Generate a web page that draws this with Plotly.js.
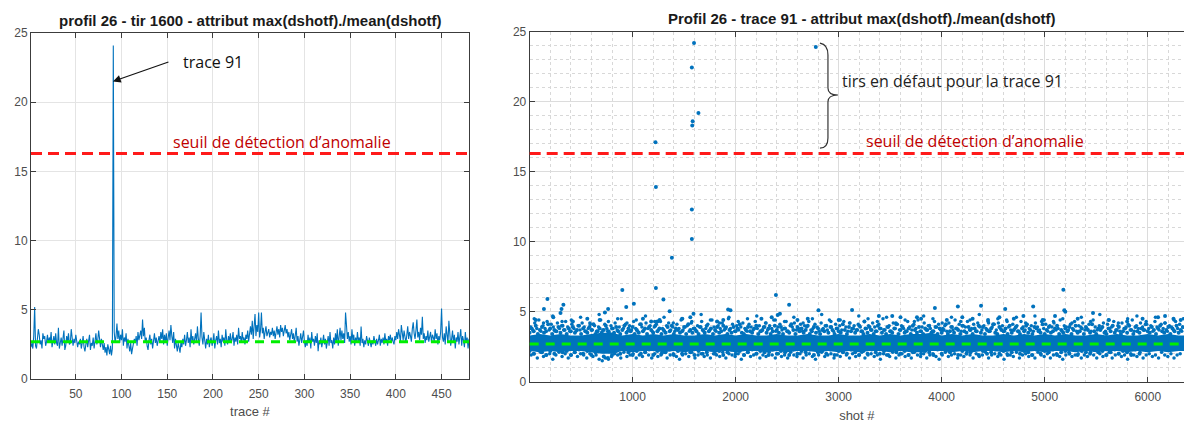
<!DOCTYPE html>
<html>
<head>
<meta charset="utf-8">
<script src="https://cdn.plot.ly/plotly-3.0.1.min.js"></script>
<style>html,body{margin:0;padding:0;background:#fff;}#chart{width:1184px;height:423px;}</style>
</head>
<body>
<div id="chart"></div>
<script>
// ---------- data ----------
const leftTitle = "profil 26 - tir 1600 - attribut max(dshotf)./mean(dshotf)";
const rightTitle = "Profil 26 - trace 91 - attribut max(dshotf)./mean(dshotf)";
const leftXLabel = "trace #";
const rightXLabel = "shot #";
const thresholdLabel = "seuil de détection d’anomalie";
const traceLabel = "trace 91";
const faultLabel = "tirs en défaut pour la trace 91";

const threshold = 16.3;
const meanLevel = 2.7;

// left: attribute per trace (trace # 1..480)
const traceValues = [
2.3,2.6,2.2,3.1,5.2,2.4,2.2,2.9,3.6,3.2,2.5,2.8,2.2,3.3,2.9,3.1,2.4,2.7,3.2,2.6,
3.0,2.7,3.4,2.3,2.9,3.1,2.5,3.3,2.6,2.4,3.7,2.2,2.6,3.0,2.4,2.9,3.5,2.1,2.4,3.1,
2.7,3.3,2.5,2.6,3.6,3.0,2.4,2.9,2.6,3.2,2.8,2.3,2.7,2.5,2.9,2.2,2.6,3.1,2.3,2.0,
2.5,2.9,2.3,2.7,3.2,2.1,2.6,2.4,3.0,2.2,2.7,3.3,2.5,2.8,3.5,2.6,2.3,2.9,2.4,2.1,
2.6,1.9,2.3,1.7,2.5,2.0,1.8,2.4,1.7,2.2,24.1,3.4,2.6,3.1,4.0,2.9,3.5,2.6,3.2,2.8,
3.6,2.4,3.0,2.7,3.3,2.2,2.9,2.4,2.0,2.6,1.8,2.2,2.5,2.9,2.6,3.1,2.4,3.4,2.8,3.2,
3.5,2.9,4.3,3.1,3.7,2.6,3.0,2.4,2.1,2.8,3.2,2.5,2.9,2.2,2.7,3.3,2.6,3.0,2.4,2.8,
3.1,2.6,3.4,2.9,3.6,2.5,3.2,2.7,3.3,2.4,3.0,3.5,2.8,3.9,3.1,2.6,3.4,2.2,2.9,2.4,
2.0,2.6,2.2,1.9,2.7,2.3,2.9,2.5,3.2,2.4,2.8,3.4,2.6,3.0,2.3,3.6,2.7,3.1,2.5,2.9,
3.3,2.6,3.8,2.9,2.4,3.1,4.8,3.0,2.5,3.4,2.7,2.2,2.9,2.5,3.2,2.3,2.8,3.0,2.4,2.7,
3.3,2.2,2.8,3.1,2.5,3.5,2.6,2.9,2.3,3.2,2.7,3.0,2.4,3.6,2.8,2.5,3.1,2.7,3.3,2.6,
2.9,3.4,2.4,3.0,2.7,3.2,2.5,3.7,2.9,3.1,2.6,3.4,2.8,3.0,2.5,3.2,2.9,3.5,2.7,3.1,
3.8,3.2,4.2,2.9,3.6,4.7,3.1,3.9,3.4,4.8,3.0,3.5,4.8,3.3,3.7,2.9,3.4,3.8,3.1,3.3,
3.6,3.0,3.4,3.2,3.7,3.1,3.5,2.9,3.3,3.8,3.2,3.6,3.0,3.9,3.4,3.7,3.1,3.5,3.9,3.3,
3.6,3.0,3.4,2.8,3.2,3.6,2.9,3.3,2.6,3.0,3.7,2.7,3.1,2.4,2.9,3.3,2.6,3.0,3.5,2.7,
2.3,2.8,2.4,3.2,2.6,3.0,2.2,3.4,2.7,2.9,2.4,3.1,2.6,3.3,2.0,2.8,2.5,3.0,2.3,2.7,
3.2,2.5,2.9,2.2,2.7,3.1,2.4,3.4,2.6,2.8,2.2,3.0,2.5,3.3,2.7,3.6,2.4,3.0,3.7,2.8,
3.5,2.9,3.3,2.6,4.8,3.9,2.9,3.4,2.7,3.1,2.5,3.6,2.8,3.2,2.4,3.0,2.6,3.4,2.7,3.0,
2.4,3.8,2.6,2.9,2.3,2.8,2.5,3.1,2.7,2.4,3.0,2.6,2.3,2.8,2.5,3.1,2.6,2.4,2.9,2.5,
2.8,3.2,2.4,2.9,2.6,3.0,2.5,3.3,2.7,2.9,2.4,3.1,2.8,3.2,2.6,3.0,2.7,2.5,3.1,2.8,
3.4,2.9,3.6,3.1,2.7,3.9,3.3,2.8,3.5,3.0,2.6,3.2,3.8,2.9,3.4,3.1,2.7,3.6,4.1,3.3,
2.9,3.5,4.3,3.0,3.4,2.8,3.7,3.2,4.5,2.9,3.3,2.6,3.1,2.8,3.5,2.7,3.0,3.4,2.6,3.2,
3.0,2.7,3.6,2.9,3.3,2.5,3.1,2.8,3.4,5.1,3.0,2.7,3.3,2.5,3.8,2.9,2.6,4.2,3.1,2.4,
2.9,3.5,2.6,3.2,2.2,3.0,2.7,3.4,2.5,2.9,3.6,2.4,3.1,2.8,2.3,3.4,2.6,3.0,2.2,2.9
];

// right: dense core of the shot cloud (envelope per 100 shots)
const coreShots = [0,100,200,300,400,500,600,700,800,900,1000,1100,1200,1300,1400,1500,1600,1700,1800,1900,2000,2100,2200,2300,2400,2500,2600,2700,2800,2900,3000,3100,3200,3300,3400,3500,3600,3700,3800,3900,4000,4100,4200,4300,4400,4500,4600,4700,4800,4900,5000,5100,5200,5300,5400,5500,5600,5700,5800,5900,6000,6100,6200,6300,6400];
const coreLow = [2.2,2.1,2.2,2.1,2.2,2.2,2.1,2.0,2.0,2.2,2.1,2.2,2.2,2.1,2.2,2.1,2.2,2.2,2.1,2.2,2.1,2.2,2.2,2.1,2.2,2.1,2.2,2.2,2.1,2.2,2.1,2.2,2.1,2.2,2.2,2.1,2.2,2.1,2.1,2.2,2.2,2.1,2.2,2.1,2.2,2.2,2.1,2.2,2.1,2.2,2.1,2.2,2.2,2.1,2.2,2.1,2.2,2.2,2.1,2.2,2.1,2.2,2.1,2.2,2.2];
const coreHigh = [3.3,3.4,3.3,3.4,3.3,3.3,3.4,3.5,3.5,3.3,3.4,3.3,3.4,3.3,3.4,3.3,3.3,3.4,3.3,3.4,3.3,3.4,3.3,3.3,3.4,3.3,3.3,3.4,3.3,3.3,3.4,3.3,3.3,3.4,3.3,3.4,3.3,3.4,3.4,3.5,3.3,3.4,3.3,3.4,3.3,3.3,3.4,3.3,3.4,3.3,3.4,3.3,3.4,3.3,3.3,3.4,3.3,3.4,3.3,3.3,3.4,3.3,3.4,3.3,3.3];

// right: upper edge of the cloud, one shot every 20 (from shot 10)
const upperEdge = [
3.9,3.7,4.2,3.8,4.4,3.6,4.0,3.8,4.3,3.7,4.1,3.9,3.6,4.2,3.8,4.0,3.7,4.3,3.9,3.6,
4.1,3.8,3.6,4.0,3.7,4.2,3.9,3.6,3.8,4.1,3.7,4.0,3.6,3.9,4.4,3.7,4.1,3.8,3.6,4.0,
3.8,4.2,3.7,3.9,4.5,3.8,4.1,3.6,4.0,3.7,4.3,3.8,3.6,4.1,3.9,3.7,4.2,3.8,4.0,3.6,
3.9,4.1,3.7,4.3,3.8,3.6,4.0,4.2,3.7,3.9,3.6,4.1,3.8,4.4,3.7,3.9,4.0,3.6,4.2,3.8,
3.7,4.0,3.9,4.3,3.6,3.8,4.1,3.7,4.4,3.9,3.6,4.0,3.8,4.2,3.7,3.9,4.5,3.8,4.1,3.6,
4.0,3.7,3.9,4.2,3.8,3.6,4.1,3.9,3.7,4.3,3.8,4.0,3.6,3.9,4.2,3.7,4.0,3.8,4.4,3.6,
3.9,4.1,3.7,3.8,4.3,3.6,4.0,3.9,4.2,3.7,3.8,4.1,3.6,4.0,3.9,4.3,3.7,3.8,4.1,3.9,
3.6,4.2,3.8,4.0,3.7,4.4,3.9,3.6,4.1,3.8,4.0,3.7,4.3,3.9,3.6,4.2,3.8,4.0,3.7,4.1,
3.9,3.6,4.3,3.8,4.0,3.7,4.2,3.9,3.6,4.1,3.8,4.5,3.7,3.9,4.0,3.6,4.2,3.8,4.1,3.7,
4.0,3.8,3.6,4.3,3.9,3.7,4.1,3.8,4.4,3.6,3.9,4.2,3.7,4.0,3.8,3.6,4.3,3.9,4.1,3.7,
3.8,4.0,3.6,4.2,3.9,3.7,4.4,3.8,4.1,3.6,4.0,3.9,4.3,3.7,3.8,4.1,3.6,4.2,3.9,3.7,
4.0,3.8,4.3,3.6,3.9,4.1,3.7,4.2,3.8,4.0,3.6,4.4,3.9,3.7,4.1,3.8,4.0,3.6,4.3,3.9,
3.7,4.1,3.8,4.0,3.6,4.2,3.9,3.7,4.3,3.8,4.1,3.6,4.0,3.9,4.2,3.7,3.8,4.4,3.6,4.0,
3.9,3.7,4.1,3.8,4.3,3.6,4.0,3.9,4.2,3.7,3.8,4.1,3.6,4.4,3.9,3.7,4.0,3.8,4.2,3.6,
4.1,3.8,3.9,4.3,3.7,4.0,3.6,4.2,3.8,3.9,4.1,3.7,4.4,3.6,4.0,3.8,4.2,3.9,3.7,4.1,
3.8,4.0,3.6,4.3,3.9,3.7,4.1,3.8,4.2,3.6,4.0,3.9,3.7,4.3,3.8,4.1,3.6
];

// right: inner upper band, one shot every 20 (from shot 0)
const upperInner = [
3.5,3.8,3.6,4.0,3.4,3.7,3.9,3.5,3.6,4.1,3.8,3.4,3.7,3.6,3.9,3.5,4.0,3.7,3.4,3.8,
3.6,3.9,3.5,3.7,4.0,3.4,3.8,3.6,3.5,3.9,3.7,4.1,3.4,3.6,3.8,3.5,3.7,4.0,3.6,3.4,
3.8,3.5,3.9,3.6,3.4,3.7,4.0,3.5,3.8,3.6,3.9,3.4,3.7,3.5,4.1,3.6,3.8,3.4,3.9,3.7,
3.5,4.0,3.6,3.8,3.4,3.7,3.5,3.9,3.6,4.0,3.4,3.8,3.7,3.5,3.6,3.9,3.4,4.1,3.7,3.5,
3.8,3.6,3.4,3.9,3.7,3.5,4.0,3.6,3.8,3.4,3.7,3.9,3.5,3.6,4.0,3.8,3.4,3.7,3.5,3.9,
3.6,3.8,4.1,3.5,3.4,3.7,3.9,3.6,3.5,3.8,4.0,3.4,3.6,3.7,3.9,3.5,3.8,3.4,3.6,4.0,
3.7,3.5,3.9,3.4,3.8,3.6,3.5,4.1,3.7,3.4,3.9,3.6,3.8,3.5,3.7,4.0,3.4,3.6,3.9,3.5,
3.8,3.4,3.7,3.6,4.0,3.5,3.9,3.7,3.4,3.8,3.6,3.5,4.1,3.7,3.4,3.9,3.6,3.8,3.5,3.7,
4.0,3.6,3.4,3.8,3.5,3.9,3.7,3.4,3.6,4.0,3.8,3.5,3.7,3.4,3.9,3.6,3.5,3.8,4.1,3.4,
3.7,3.9,3.5,3.6,3.8,3.4,4.0,3.7,3.5,3.9,3.6,3.4,3.8,3.7,4.0,3.5,3.6,3.9,3.4,3.8,
3.5,3.7,4.1,3.4,3.6,3.9,3.5,3.8,3.7,3.4,4.0,3.6,3.5,3.9,3.7,3.4,3.8,3.6,4.0,3.5,
3.9,3.4,3.7,3.6,3.8,4.1,3.5,3.4,3.9,3.7,3.6,3.8,3.4,4.0,3.5,3.7,3.9,3.6,3.4,3.8,
3.6,4.0,3.5,3.7,3.4,3.9,3.8,3.6,3.5,4.1,3.4,3.7,3.9,3.5,3.6,3.8,4.0,3.4,3.7,3.5,
3.8,3.6,3.9,3.4,3.7,4.0,3.5,3.6,3.8,3.4,3.9,3.7,3.5,4.1,3.6,3.4,3.8,3.7,3.9,3.5,
3.4,3.8,3.6,4.0,3.5,3.7,3.9,3.4,3.6,3.8,3.5,4.0,3.7,3.4,3.9,3.6,3.5,3.8,3.7,4.1,
3.6,3.5,3.9,3.7,3.4,3.8,4.0,3.6,3.5,3.7,3.9,3.4,3.8,3.6,4.0,3.5,3.7,3.9
];

// right: scattered shots just above the cloud, one every 90 (from shot 45)
const upperSparse = [
4.5,4.2,4.7,4.3,4.4,4.6,4.2,4.8,4.3,4.5,4.2,4.4,4.7,4.3,4.6,4.2,4.5,4.3,4.8,4.4,
4.2,4.6,4.3,4.5,4.7,4.2,4.4,4.3,4.6,4.2,4.5,4.8,4.3,4.4,4.2,4.7,4.5,4.3,4.6,4.2,
4.4,4.3,4.7,4.5,4.2,4.6,4.3,4.4,4.8,4.2,4.5,4.3,4.6,4.2,4.7,4.4,4.3,4.5,4.2,4.6,
4.3,4.8,4.4,4.2,4.5,4.7,4.3,4.6,4.2,4.4,4.5
];

// right: lower edge of the cloud, one shot every 30 (from shot 15)
const lowerEdge = [
1.9,2.0,1.7,2.1,1.8,1.9,2.0,1.6,1.9,2.1,1.8,2.0,1.7,1.9,2.1,1.8,2.0,1.9,1.7,2.0,
1.8,1.9,1.6,1.5,1.7,1.6,1.8,2.0,1.9,1.7,2.1,1.8,1.9,2.0,1.7,1.9,1.8,2.1,1.9,1.7,
2.0,1.8,1.9,2.1,1.7,1.9,2.0,1.8,1.6,1.9,2.0,1.8,2.1,1.7,1.9,2.0,1.8,1.9,1.7,2.0,
1.9,1.8,2.1,1.7,2.0,1.9,1.8,2.0,1.6,1.9,2.1,1.8,1.9,2.0,1.7,1.9,1.8,2.1,1.9,1.7,
2.0,1.8,1.9,1.7,2.1,1.9,1.8,2.0,1.7,1.9,2.0,1.8,1.6,1.9,2.1,1.8,1.9,2.0,1.7,1.9,
1.8,2.1,1.9,1.7,2.0,1.8,1.9,2.1,1.7,1.9,2.0,1.8,1.9,1.6,2.0,1.9,1.8,2.1,1.7,1.9,
2.0,1.8,1.9,1.7,2.1,1.9,1.8,2.0,1.7,1.9,2.0,1.8,1.6,1.9,2.1,1.8,1.9,2.0,1.7,1.9,
1.8,2.1,1.9,1.7,2.0,1.8,1.9,2.1,1.7,1.9,2.0,1.8,1.9,1.6,2.0,1.9,1.8,2.1,1.7,1.9,
2.0,1.8,1.9,1.7,2.1,1.9,1.8,2.0,1.7,1.9,2.0,1.8,1.6,1.9,2.1,1.8,1.9,2.0,1.7,1.9,
1.8,2.1,1.9,1.7,2.0,1.8,1.9,2.1,1.7,1.9,2.0,1.8,1.9,1.6,2.0,1.9,1.8,2.1,1.7,1.9,
2.0,1.8,1.9,1.7,2.1,1.9,1.8,2.0,1.7,1.9,2.0
];

// right: inner lower band, one shot every 40 (from shot 0)
const lowerInner = [
2.2,2.0,2.3,2.1,1.9,2.2,2.0,2.3,2.1,2.2,1.9,2.1,2.3,2.0,2.2,1.9,2.1,2.3,1.8,1.7,
1.9,2.2,2.0,2.3,2.1,1.9,2.2,2.0,2.1,2.3,1.9,2.2,2.0,2.1,2.3,1.9,2.2,2.0,2.3,2.1,
1.9,2.2,2.0,2.1,2.3,2.0,2.2,1.9,2.1,2.3,2.0,2.2,1.9,2.1,2.3,2.0,2.2,2.1,1.9,2.3,
2.0,2.2,2.1,1.9,2.3,2.0,2.2,2.1,2.3,1.9,2.1,2.2,2.0,2.3,1.9,2.2,2.1,2.0,2.3,2.1,
1.9,2.2,2.0,2.3,2.1,2.0,2.2,1.9,2.3,2.1,2.0,2.2,1.9,2.1,2.3,2.0,2.2,2.1,1.9,2.3,
2.0,2.2,2.1,2.3,1.9,2.2,2.0,2.1,2.3,1.9,2.2,2.0,2.1,2.3,2.0,2.2,1.9,2.1,2.3,2.0,
2.2,2.1,1.9,2.3,2.0,2.2,2.1,2.3,1.9,2.1,2.2,2.0,2.3,1.9,2.2,2.1,2.0,2.3,2.1,2.2,
1.9,2.1,2.3,2.0,2.2,2.1,1.9,2.3,2.0
];

// right: isolated shots above the cloud
const sparseShots = [60,139,173,230,300,310,328,420,560,680,731,762,900,938,1012,1100,1180,1222,1226,1226,1240,1262,1299,1359,1381,1480,1560,1575,1575,1575,1579,1583,1591,1596,1639,1820,1880,1927,1950,2250,2350,2391,2408,2430,2519,2600,2700,2778,2804,3000,3130,3250,3390,3520,3600,3760,3800,3934,4050,4157,4200,4300,4382,4450,4560,4617,4700,4793,4888,4980,5100,5181,5190,5200,5320,5469,5620,5800,5950,6100,6168,6250,6320];
const sparseValues = [4.4,5.2,5.9,4.6,4.9,5.2,5.5,4.3,4.5,4.4,4.95,5.2,6.55,5.34,5.57,4.5,4.3,17.1,13.9,6.7,4.3,4.4,5.88,5.03,8.86,4.5,4.6,12.3,10.2,22.45,18.3,18.6,4.85,24.2,19.2,4.3,4.4,5.15,5.1,4.5,4.6,6.2,4.76,4.85,5.5,4.4,4.5,23.9,5.1,4.4,5.12,4.3,4.7,4.7,4.6,4.6,4.5,5.26,4.4,5.38,4.6,4.5,5.43,4.4,4.6,5.19,4.5,4.7,5.38,4.4,4.7,6.57,5.1,5.0,4.5,4.9,4.4,4.3,4.5,4.6,4.7,4.5,4.4];

// ---------- drawing ----------
const BLUE = '#0072bd';
const AX = '#3c3c3c';
const TICKFONT = {family: 'Liberation Sans, Arial, sans-serif', size: 12, color: '#4d4d4d'};
const CAL = 'Open Sans, Noto Sans, sans-serif';

function cloud(x0, dx, ys, size) {
  return {x0: x0, dx: dx, y: ys, type: 'scatter', mode: 'markers',
    marker: {color: BLUE, size: size}, xaxis: 'x2', yaxis: 'y2', hoverinfo: 'skip'};
}

const traces = [
  {x0: 1, dx: 1, y: traceValues, type: 'scatter', mode: 'lines',
   line: {color: BLUE, width: 1.1}, xaxis: 'x', yaxis: 'y', hoverinfo: 'skip'},
  {x: coreShots.concat(coreShots.slice().reverse()),
   y: coreHigh.concat(coreLow.slice().reverse()),
   type: 'scatter', mode: 'lines', fill: 'toself', fillcolor: BLUE,
   line: {width: 0, color: BLUE}, xaxis: 'x2', yaxis: 'y2', hoverinfo: 'skip'},
  cloud(0, 20, upperInner, 4),
  cloud(10, 20, upperEdge, 3.5),
  cloud(45, 90, upperSparse, 3.5),
  cloud(0, 40, lowerInner, 4),
  cloud(15, 30, lowerEdge, 3.5),
  {x: sparseShots, y: sparseValues, type: 'scatter', mode: 'markers',
   marker: {color: BLUE, size: 4}, xaxis: 'x2', yaxis: 'y2', hoverinfo: 'skip'}
];

function axisBase(extra) {
  return Object.assign({
    showline: true, linecolor: AX, linewidth: 1,
    ticks: 'inside', ticklen: 5, tickcolor: AX, tickwidth: 1,
    tickfont: TICKFONT, zeroline: false, automargin: false,
    showgrid: true, gridcolor: '#e4e4e4', gridwidth: 1
  }, extra);
}

const layout = {
  width: 1184, height: 423,
  margin: {l: 0, r: 0, t: 0, b: 0},
  paper_bgcolor: '#ffffff', plot_bgcolor: '#ffffff',
  showlegend: false,
  xaxis: axisBase({domain: [0.02618, 0.39611], range: [1, 480], tick0: 0, dtick: 50,
    mirror: 'ticks', anchor: 'y', ticklabelstandoff: 4,
    title: {text: leftXLabel, standoff: 6, font: {family: 'Liberation Sans, Arial, sans-serif', size: 13, color: '#4d4d4d'}}}),
  yaxis: axisBase({domain: [0.10402, 0.92199], range: [0, 25], tick0: 0, dtick: 5,
    mirror: 'ticks', anchor: 'x'}),
  xaxis2: axisBase({domain: [0.44738, 1.0], range: [1, 6352], tick0: 0, dtick: 1000,
    mirror: 'ticks', anchor: 'y2', gridcolor: '#dcdcdc', ticklabelstandoff: 4,
    minor: {dtick: 200, showgrid: true, gridcolor: '#d8d8d8', griddash: 'dot', gridwidth: 1},
    title: {text: rightXLabel, standoff: 9, font: {family: 'Liberation Sans, Arial, sans-serif', size: 13, color: '#4d4d4d'}}}),
  yaxis2: axisBase({domain: [0.09764, 0.92506], range: [0, 25], tick0: 0, dtick: 5,
    mirror: false, anchor: 'x2', gridcolor: '#dcdcdc',
    minor: {dtick: 1, showgrid: true, gridcolor: '#d8d8d8', griddash: 'dot', gridwidth: 1}}),
  shapes: [
    {type: 'line', xref: 'x domain', yref: 'y', x0: 0, x1: 1, y0: threshold, y1: threshold,
     line: {color: '#ff1a1a', width: 3, dash: '11px,6px'}},
    {type: 'line', xref: 'x domain', yref: 'y', x0: 0, x1: 1, y0: meanLevel, y1: meanLevel,
     line: {color: '#00ee00', width: 3, dash: '9px,7px'}},
    {type: 'line', xref: 'x2 domain', yref: 'y2', x0: 0, x1: 1, y0: threshold, y1: threshold,
     line: {color: '#ff1a1a', width: 3, dash: '11px,6px'}},
    {type: 'line', xref: 'x2 domain', yref: 'y2', x0: 0, x1: 1, y0: meanLevel, y1: meanLevel,
     line: {color: '#00ee00', width: 3, dash: '9px,7px'}},
    {type: 'path', xref: 'x2', yref: 'y2',
     path: 'M 2818,24.19 Q 2896,24.1 2896,23.34 L 2896,20.98 Q 2896,20.48 2993,20.48 Q 2896,20.48 2896,19.98 L 2896,17.41 Q 2896,16.69 2818,16.69',
     line: {color: '#333333', width: 1.2}}
  ],
  annotations: [
    {text: '<b>' + leftTitle + '</b>', xref: 'paper', yref: 'paper', x: 250/1184, y: 1 - 21/423,
     xanchor: 'center', yanchor: 'middle', showarrow: false,
     font: {family: 'Liberation Sans, Arial, sans-serif', size: 15, color: '#1a1a1a'}},
    {text: '<b>' + rightTitle + '</b>', xref: 'paper', yref: 'paper', x: 862/1184, y: 1 - 18.5/423,
     xanchor: 'center', yanchor: 'middle', showarrow: false,
     font: {family: 'Liberation Sans, Arial, sans-serif', size: 15, color: '#1a1a1a'}},
    {text: traceLabel, xref: 'paper', yref: 'paper', x: 213/1184, y: 1 - 62/423,
     xanchor: 'center', yanchor: 'middle', showarrow: false,
     font: {family: CAL, size: 16, color: '#111111'}},
    {text: '', xref: 'x', yref: 'y', x: 90.6, y: 21.5, ax: 57, ay: -20,
     showarrow: true, arrowhead: 2, arrowsize: 1.3, arrowwidth: 1.2, arrowcolor: '#111111'},
    {text: thresholdLabel, xref: 'paper', yref: 'paper', x: 282/1184, y: 1 - 141.7/423,
     xanchor: 'center', yanchor: 'middle', showarrow: false,
     font: {family: CAL, size: 16, color: '#c00000'}},
    {text: thresholdLabel, xref: 'paper', yref: 'paper', x: 975/1184, y: 1 - 141/423,
     xanchor: 'center', yanchor: 'middle', showarrow: false,
     font: {family: CAL, size: 16, color: '#c00000'}},
    {text: faultLabel, xref: 'paper', yref: 'paper', x: 952/1184, y: 1 - 81/423,
     xanchor: 'center', yanchor: 'middle', showarrow: false,
     font: {family: CAL, size: 16, color: '#222222'}}
  ]
};

Plotly.newPlot('chart', traces, layout, {staticPlot: true, displayModeBar: false});
</script>
</body>
</html>
